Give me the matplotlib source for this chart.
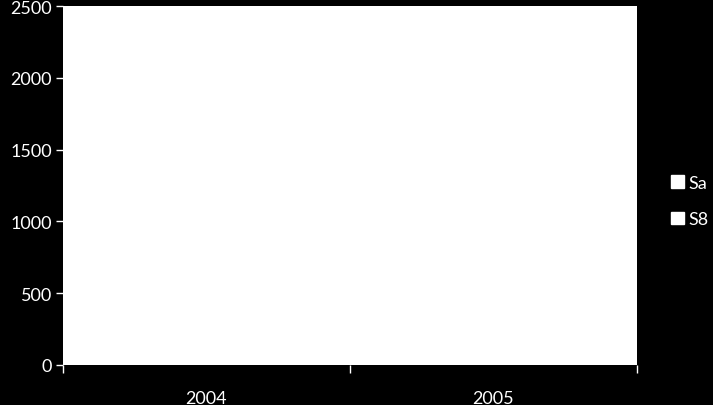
import numpy as np
import matplotlib.pyplot as plt

plt.rcParams['font.family'] = ['Lato', 'DejaVu Sans']

years = ['2004', '2005']
series_names = ['Sa', 'S8']
# bars are white on a white plot area in the reference, so values cannot be read
sa_values = [0, 0]
s8_values = [0, 0]

fig = plt.figure(figsize=(7.13, 4.06), dpi=100, facecolor='black')
ax = fig.add_axes([63 / 713, 1 - 366 / 406, (637 - 63) / 713, (366 - 7) / 406])
ax.set_facecolor('white')

x = np.arange(len(years))
w = 0.3
ax.bar(x - w / 2, sa_values, w, color='white', label=series_names[0])
ax.bar(x + w / 2, s8_values, w, color='white', label=series_names[1])

ax.set_ylim(0, 2500)
ax.set_yticks(np.arange(0, 2501, 500))
ax.set_xlim(-0.5, len(years) - 0.5)
ax.set_xticks(np.arange(-0.5, len(years), 1.0))
ax.set_xticklabels([])
ax.set_xticks(x, minor=True)
ax.set_xticklabels(years, minor=True)

ax.tick_params(axis='y', colors='white', labelsize=13, length=5, width=1, pad=3)
ax.tick_params(axis='x', which='major', colors='white', length=6, width=1)
ax.tick_params(axis='x', which='minor', colors='white', length=0, labelsize=13, pad=18)
for s in ax.spines.values():
    s.set_visible(False)

leg = fig.legend(loc='center left', bbox_to_anchor=(671 / 713, 1 - 202 / 406),
                 frameon=False, fontsize=13, labelcolor='white',
                 handlelength=0.7, handleheight=0.7, handletextpad=0.25,
                 labelspacing=1.15, borderaxespad=0, borderpad=0)
for h in leg.legend_handles:
    h.set_edgecolor('white')

fig.savefig('out.png', dpi=100, facecolor='black')
